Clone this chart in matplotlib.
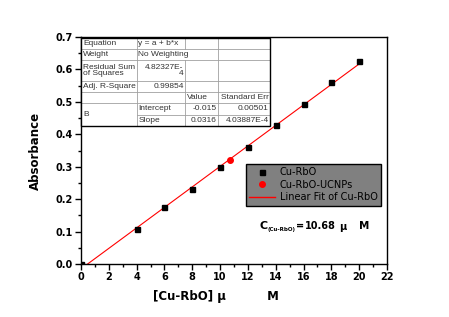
import numpy as np
import matplotlib
matplotlib.use("Agg")
import matplotlib.pyplot as plt
from matplotlib.lines import Line2D

# data
conc = [0, 4, 6, 8, 10, 12, 14, 16, 18, 20]
absorb = [0.0, 0.109, 0.176, 0.230, 0.300, 0.361, 0.429, 0.494, 0.562, 0.626]
ucnp_x = [10.68]
ucnp_y = [0.322]
intercept = -0.015
slope = 0.0316

table_rows = [
    ["Equation", "y = a + b*x", "", ""],
    ["Weight", "No Weighting", "", ""],
    ["Residual Sum\nof Squares", "4.82327E-\n4", "", ""],
    ["Adj. R-Square", "0.99854", "", ""],
    ["", "", "Value", "Standard Err"],
    ["B", "Intercept", "-0.015", "0.00501"],
    ["", "Slope", "0.0316", "4.03887E-4"],
]

W, H = 449, 317
fig = plt.figure(figsize=(W / 100, H / 100), dpi=100)
ax = fig.add_axes([81 / W, 1 - 264 / H, 306 / W, 227 / H])

fx = lambda x: x / W
fy = lambda y: 1 - y / H

# fit line
xf = np.linspace(0, 20, 50)
ax.plot(xf, intercept + slope * xf, color="red", lw=0.8, zorder=2)
ax.plot(conc, absorb, "s", color="black", ms=3.6, zorder=3)
ax.plot(ucnp_x, ucnp_y, "o", color="red", ms=4, zorder=3)

ax.set_xlim(0, 22)
ax.set_ylim(0, 0.7)
ax.set_xticks(range(0, 23, 2))
ax.set_xticks(range(1, 23, 2), minor=True)
ax.set_yticks(np.arange(0, 0.71, 0.1))
ax.set_yticks(np.arange(0.05, 0.7, 0.1), minor=True)
ax.set_yticklabels(["%.1f" % v for v in np.arange(0, 0.71, 0.1)])
ax.tick_params(which="major", direction="out", length=4, width=1, labelsize=7, pad=2)
ax.tick_params(which="minor", direction="out", length=2, width=1)
for lab in ax.get_xticklabels() + ax.get_yticklabels():
    lab.set_fontweight("bold")
for s in ax.spines.values():
    s.set_linewidth(1)

ax.set_xlabel("[Cu-RbO] μ          M", fontsize=8.5, fontweight="bold", labelpad=6)
ax.xaxis.set_label_coords((216 - 81) / 306, -0.115)
ax.set_ylabel("Absorbance", fontsize=8.5, fontweight="bold", labelpad=10)

# legend
handles = [
    Line2D([], [], ls="none", marker="s", color="black", ms=3.6),
    Line2D([], [], ls="none", marker="o", color="red", ms=4),
    Line2D([], [], color="red", lw=1),
]
leg = ax.legend(handles, ["Cu-RbO", "Cu-RbO-UCNPs", "Linear Fit of Cu-RbO"],
                loc="upper left", bbox_to_anchor=((246 - 81) / 306, (264 - 164) / 227),
                fontsize=7, frameon=True, fancybox=False, borderpad=0.35,
                labelspacing=0.25, handlelength=2.6, handletextpad=0.5,
                borderaxespad=0)
leg.get_frame().set_facecolor("#808080")
leg.get_frame().set_edgecolor("black")
leg.get_frame().set_alpha(1)

# concentration annotation
fig.text(fx(259), fy(226), "C", fontsize=8, fontweight="bold", va="center")
fig.text(fx(267), fy(230), "(Cu-RbO)", fontsize=4, fontweight="bold", va="center")
fig.text(fx(296), fy(226), "=", fontsize=7, fontweight="bold", va="center")
fig.text(fx(305), fy(226), "10.68", fontsize=7, fontweight="bold", va="center")
fig.text(fx(339), fy(227), "μ", fontsize=7, fontweight="bold", va="center")
fig.text(fx(359), fy(226), "M", fontsize=7.5, fontweight="bold", va="center")

# fit result table
cols = [81, 136.5, 185, 218, 270]
rows = [38, 49, 60, 81, 92, 103, 114.5, 126]
fig.patches.append(plt.Rectangle((fx(cols[0]), fy(rows[-1])), (cols[-1] - cols[0]) / W,
                                 (rows[-1] - rows[0]) / H, transform=fig.transFigure,
                                 facecolor="white", edgecolor="none", zorder=4))
grid = "#a0a0a0"
for i, r in enumerate(rows[1:-1], start=1):
    x0 = cols[1] if i == 6 else cols[0]
    fig.add_artist(Line2D([fx(x0), fx(cols[-1])], [fy(r), fy(r)], color=grid, lw=0.6, zorder=5))
for j, c in enumerate(cols[1:-1], start=1):
    segs = [(rows[0], rows[-1])]
    if j == 2:
        segs = [(rows[0], rows[1]), (rows[2], rows[-1])]
    for a, b in segs:
        fig.add_artist(Line2D([fx(c), fx(c)], [fy(a), fy(b)], color=grid, lw=0.6, zorder=5))
fig.add_artist(plt.Rectangle((fx(cols[0]), fy(rows[-1])), (cols[-1] - cols[0]) / W,
                             (rows[-1] - rows[0]) / H, transform=fig.transFigure,
                             facecolor="none", edgecolor="black", lw=1, zorder=6))

right_cells = {(2, 1), (3, 1), (5, 2), (5, 3), (6, 2), (6, 3), (4, 3)}
for i, row in enumerate(table_rows):
    for j, txt in enumerate(row):
        if not txt:
            continue
        ytop, ybot = rows[i], rows[i + 1]
        if i == 5 and j == 0:
            ybot = rows[7]
        yc = (ytop + ybot) / 2
        if (i, j) in right_cells:
            fig.text(fx(cols[j + 1] - 1.5), fy(yc), txt, fontsize=6, ha="right",
                     va="center", color="#333333", family="Liberation Sans",
                     linespacing=0.95, zorder=7)
        else:
            fig.text(fx(cols[j] + 2), fy(yc), txt, fontsize=6, ha="left",
                     va="center", color="#333333", family="Liberation Sans",
                     linespacing=0.95, zorder=7)

fig.savefig("out.png", dpi=100)
